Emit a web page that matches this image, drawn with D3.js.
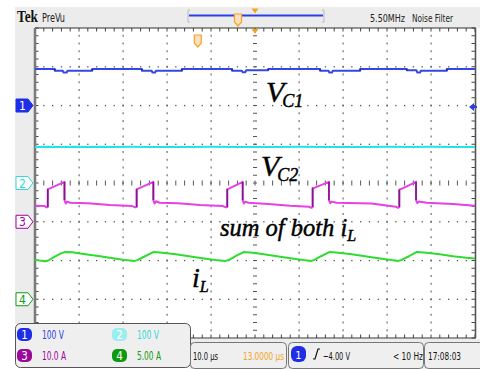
<!DOCTYPE html>
<html><head><meta charset="utf-8">
<script src="https://cdn.jsdelivr.net/npm/d3@7"></script>
<style>
html,body{margin:0;padding:0;background:#fff;}
svg{display:block;}
</style></head><body>
<svg id="scope" width="480" height="369"></svg>
<script>
// ---- acquisition settings ----
const timeDivs = d3.range(0, 101, 10);          // 10 µs/div, 10 divisions
const vertDivs = d3.range(-4, 5, 1);            // 8 vertical divisions
const chScale = [100, 100, 10, 5];              // V/div, V/div, A/div, A/div
const chUnit = ["V", "V", "A", "A"];
const chPosition = [2, 0, -1, -3];              // trace ground position in divisions
const chScaleText = ["100 V", "100 V", "10.0 A", "5.00 A"];
const triggerLevel = -4.0;                      // V on channel 1
const triggerDelay = 13.0;                      // µs before centre
const headerTexts = ["5.50MHz", "Noise Filter"];
const footerTexts = ["10.0 µs", "13.0000 µs", "−4.00 V", "< 10 Hz", "17:08:03"];

// ---- waveforms: [time µs, value] ----
const ch1Points = [[0,94],[4.5,94],[4.5,90],[6.3,90],[6.5,85],[7.2,85],[7.4,90],[13.0,90],[13.0,94],[24.3,94],[24.3,90],[26.5,90],[26.7,85],[27.3,85],[27.5,90],[33.4,90],[33.4,94],[44.8,94],[44.8,90],[47.0,90],[47.2,86],[47.8,86],[48.0,91],[53.0,91],[53.0,94],[64.8,94],[64.8,90],[66.7,90],[66.9,85],[67.5,85],[67.7,90],[73.9,90],[73.9,94],[84.5,94],[84.5,91],[86.7,91],[86.9,85],[87.5,85],[87.7,90],[93.6,90],[93.6,94],[100,94]];
const ch2Points = [[0,93],[3,93.4],[6,92.8],[9,93.3],[12,92.9],[15,93.5],[18,93],[22,93.3],[26,92.8],[30,93.2],[35,93],[40,93.4],[45,92.9],[50,93.2],[55,93],[60,93.3],[65,92.8],[70,93.2],[75,93],[80,93.4],[85,92.9],[90,93.3],[95,93],[100,93.2]];
const ch3Points = [[0,4.1],[2.2,4.05],[2.6,3.7],[2.9,3.8],[2.9,8.4],[3.4,8.6],[6.7,10.3],[6.7,5.6],[7.0,4.7],[7.3,5.2],[8.0,4.9],[12,4.8],[17,4.3],[22.1,4.05],[22.8,3.7],[23.1,3.8],[23.1,8.4],[23.6,8.6],[26.9,10.3],[26.9,5.6],[27.2,4.7],[27.5,5.3],[28.3,4.9],[32.5,4.8],[37.5,4.3],[42.7,4.05],[43.4,3.7],[43.7,3.8],[43.7,8.4],[44.2,8.6],[47.2,10.3],[47.2,5.6],[47.5,4.7],[47.8,5.2],[48.5,4.9],[53,4.6],[58,4.1],[62.2,3.9],[62.8,3.6],[63.1,3.8],[63.1,8.7],[63.6,8.8],[66.8,10.3],[66.8,5.6],[67.1,4.8],[67.4,5.2],[68.5,4.9],[76.5,4.7],[82.0,3.9],[82.5,3.6],[82.8,3.8],[82.8,8.3],[83.3,8.5],[86.6,10.3],[86.6,5.6],[86.9,4.8],[87.2,5.2],[89,4.9],[95,4.6],[100,4.1]];
const ch4Points = [[0,5.1],[1.0,5.0],[2.3,4.9],[3.0,5.0],[4.5,5.5],[6.0,5.95],[6.9,6.1],[8.5,6.05],[11,5.85],[14,5.6],[17,5.35],[20,5.1],[22.6,4.95],[23.3,5.05],[25,5.55],[27,6.1],[29,6.0],[32,5.8],[35,5.55],[38,5.3],[41,5.05],[43.3,4.95],[44.2,5.1],[46,5.7],[47.5,6.1],[49.5,6.0],[52,5.8],[55,5.55],[58,5.3],[61,5.05],[62.8,4.95],[63.6,5.1],[65,5.55],[67,6.1],[69,6.0],[72,5.8],[75,5.55],[78,5.3],[81,5.05],[82.6,4.95],[83.4,5.1],[85,5.55],[86.8,6.1],[89,6.0],[92,5.8],[95,5.55],[98,5.35],[100,5.25]];
const traces = [ch1Points, ch2Points, ch3Points, ch4Points];

// ---- drawing ----
const chColor = ["#3447e4", "#1fe6e6", "#e640e6", "#30dc30"];
const chEdge = ["#1c2aa8", "#10b8b8", "#7d1a86", "#1f9f1f"];
const chTextColor = ["#3340e0", "#33d8d8", "#a000a0", "#109a10"];
const badgeFill = ["#1f2ee6", "#9aeeee", "#9a0a9a", "#0e9a0e"];
const uiFont = '"Liberation Sans Narrow","DejaVu Sans Condensed","Arial Narrow",sans-serif';
const serif = '"Liberation Serif","Times New Roman",serif';

const svg = d3.select("#scope");
const x = d3.scaleLinear().domain([0, 100]).range([35, 475]);
const y = d3.scaleLinear().domain([-4, 4]).range([338, 28]);
const toDiv = (ch, v) => v / chScale[ch] + chPosition[ch];

// frame background
svg.append("rect").attr("x", 15).attr("y", 7).attr("width", 465).attr("height", 21).attr("fill", "#ececec");
svg.append("rect").attr("x", 15).attr("y", 28).attr("width", 20).attr("height", 296).attr("fill", "#ececec");
svg.append("rect").attr("x", 190).attr("y", 339).attr("width", 290).attr("height", 30).attr("fill", "#ececec");
svg.append("rect").attr("x", x(0)).attr("y", y(4)).attr("width", x(100) - x(0)).attr("height", y(-4) - y(4)).attr("fill", "#fff");

const grid = svg.append("g");
const minorT = d3.range(0, 100.01, 2);
const minorD = d3.range(-4, 4.01, 0.2);
// vertical dotted grid lines
timeDivs.filter(t => t > 0 && t < 100 && t !== 50).forEach(t => {
  grid.selectAll(null).data(minorD.slice(1, -1)).join("rect")
    .attr("x", x(t) - 0.5).attr("y", d => y(d) - 1).attr("width", 1.2).attr("height", 2).attr("fill", "#707070");
});
// horizontal dotted grid lines
vertDivs.filter(d => d > -4 && d < 4 && d !== 0).forEach(d => {
  grid.selectAll(null).data(minorT.slice(1, -1)).join("rect")
    .attr("x", t => x(t) - 0.6).attr("y", y(d) - 0.6).attr("width", 1.3).attr("height", 1.3).attr("fill", "#555");
});
// centre cross with minor ticks
grid.selectAll(null).data(minorD.slice(1, -1)).join("line")
  .attr("x1", x(50) - 2).attr("x2", x(50) + 2).attr("y1", d => y(d)).attr("y2", d => y(d))
  .attr("stroke", "#555").attr("stroke-width", 1);
grid.selectAll(null).data(minorT.slice(1, -1)).join("line")
  .attr("x1", t => x(t)).attr("x2", t => x(t)).attr("y1", y(0) - 2.5).attr("y2", y(0) + 2.5)
  .attr("stroke", "#555").attr("stroke-width", 1);
// border ticks
grid.selectAll(null).data(minorT).join("line")
  .attr("x1", t => x(t)).attr("x2", t => x(t)).attr("y1", y(4)).attr("y2", y(4) + 3.5)
  .attr("stroke", "#444");
grid.selectAll(null).data(minorT).join("line")
  .attr("x1", t => x(t)).attr("x2", t => x(t)).attr("y1", y(-4)).attr("y2", y(-4) - 3.5)
  .attr("stroke", "#444");
grid.selectAll(null).data(minorD).join("line")
  .attr("x1", x(0)).attr("x2", x(0) + 3.5).attr("y1", d => y(d)).attr("y2", d => y(d))
  .attr("stroke", "#444");
grid.selectAll(null).data(minorD).join("line")
  .attr("x1", x(100)).attr("x2", x(100) - 3.5).attr("y1", d => y(d)).attr("y2", d => y(d))
  .attr("stroke", "#444");
// border
grid.append("line").attr("x1", x(0)).attr("x2", x(100) + 1).attr("y1", y(4)).attr("y2", y(4)).attr("stroke", "#333");
grid.append("line").attr("x1", x(0)).attr("x2", x(100) + 1).attr("y1", y(-4)).attr("y2", y(-4)).attr("stroke", "#333");
grid.append("line").attr("x1", x(0)).attr("x2", x(0)).attr("y1", y(4)).attr("y2", y(-4)).attr("stroke", "#7a7a7a").attr("stroke-width", 2.5);
grid.append("line").attr("x1", x(100) + 0.5).attr("x2", x(100) + 0.5).attr("y1", y(4)).attr("y2", y(-4)).attr("stroke", "#555").attr("stroke-width", 1.6);

// waveforms
traces.forEach((pts, ch) => {
  const line = d3.line().x(d => x(d[0])).y(d => y(toDiv(ch, d[1])));
  svg.append("path").datum(pts).attr("d", line).attr("fill", "none")
    .attr("stroke", chColor[ch]).attr("stroke-width", 2).attr("stroke-linejoin", "round");
  // fast edges are drawn dimmer by the scope
  const edges = d3.pairs(pts).filter(([a, b]) => a[0] === b[0]);
  svg.selectAll(null).data(edges).join("line")
    .attr("x1", d => x(d[0][0])).attr("x2", d => x(d[1][0]))
    .attr("y1", d => y(toDiv(ch, d[0][1]))).attr("y2", d => y(toDiv(ch, d[1][1])))
    .attr("stroke", chEdge[ch]).attr("stroke-width", 1.6);
});

// channel ground markers
chPosition.forEach((p, ch) => {
  const cy = y(p);
  const g = svg.append("g").attr("transform", `translate(16,${cy})`);
  g.append("path").attr("d", "M0,-6.5H12L17,0L12,6.5H0Z")
    .attr("fill", ch === 0 ? badgeFill[0] : "#fff").attr("stroke", ch === 0 ? badgeFill[0] : chTextColor[ch]).attr("stroke-width", 1);
  g.append("text").attr("x", 6.5).attr("y", 4.5).attr("text-anchor", "middle")
    .attr("font-family", uiFont).attr("font-size", 12)
    .attr("fill", ch === 0 ? "#fff" : chTextColor[ch]).text(ch + 1);
});

// trigger level arrow on the right
const tl = y(toDiv(0, triggerLevel));
svg.append("path").attr("d", `M${x(100) - 6},${tl}L${x(100) - 1},${tl - 4}L${x(100) - 1},${tl + 4}Z`).attr("fill", "#2a3ee6");
svg.append("line").attr("x1", x(100) - 3).attr("x2", x(100) + 2).attr("y1", tl).attr("y2", tl).attr("stroke", "#2a3ee6").attr("stroke-width", 2);

// expansion point and trigger point markers
const orange = "#f3a428";
svg.append("path").attr("d", `M${x(50) - 3.5},${y(4) + 1}H${x(50) + 3.5}L${x(50)},${y(4) + 6}Z`).attr("fill", orange);
const trigX = x(50 - triggerDelay);
svg.append("path").attr("d", `M${trigX - 3.5},${y(4) + 7}H${trigX + 3.5}V${y(4) + 15}L${trigX},${y(4) + 19}L${trigX - 3.5},${y(4) + 15}Z`)
  .attr("fill", "#fde0c0").attr("stroke", orange).attr("stroke-width", 1.2);

// text helper
const tx = (xx, yy, str, size, color, opts = {}) => {
  const t = svg.append("text").attr("x", xx).attr("y", yy).attr("font-family", opts.family || uiFont)
    .attr("font-size", size).attr("fill", color).text(str);
  if (opts.width) t.attr("textLength", opts.width).attr("lengthAdjust", "spacingAndGlyphs");
  if (opts.weight) t.attr("font-weight", opts.weight);
  if (opts.anchor) t.attr("text-anchor", opts.anchor);
  return t;
};
// header
tx(17, 22, "Tek", 17, "#111", { family: serif, weight: "bold", width: 21 });
tx(42, 22, "PreVu", 11.5, "#222", { width: 23 });
tx(370, 21.5, headerTexts[0], 11, "#222", { width: 35 });
tx(412, 21.5, headerTexts[1], 11, "#222", { width: 41 });
// record view bar
svg.append("path").attr("d", "M190,10H188V22H190").attr("fill", "none").attr("stroke", "#bbb").attr("stroke-width", 1);
svg.append("path").attr("d", "M322,10H324V22H322").attr("fill", "none").attr("stroke", "#bbb").attr("stroke-width", 1);
svg.append("line").attr("x1", 189).attr("x2", 323).attr("y1", 15.5).attr("y2", 15.5).attr("stroke", "#2a3ee6").attr("stroke-width", 2);
svg.append("path").attr("d", "M234.5,14H241.5V22L238,26L234.5,22Z").attr("fill", "#fde0c0").attr("stroke", orange).attr("stroke-width", 1.2);
svg.append("path").attr("d", "M251.5,8.5H258.5L255,13.5Z").attr("fill", orange);

// footer: channel scale box
svg.append("rect").attr("x", 15.5).attr("y", 323.5).attr("width", 175).attr("height", 44).attr("rx", 5)
  .attr("fill", "#efefef").attr("stroke", "#555");
const badgePos = [[17, 328], [112, 328], [17, 349], [112, 349]];
chScaleText.forEach((s, ch) => {
  const [bx, by] = badgePos[ch];
  svg.append("rect").attr("x", bx).attr("y", by).attr("width", 15).attr("height", 13).attr("rx", 5).attr("fill", badgeFill[ch]);
  tx(bx + 7.5, by + 11, ch + 1, 11.5, "#fff", { anchor: "middle" });
  tx(bx + 25, by + 11, s, 12, chTextColor[ch], { width: s.length > 5 ? 24 : 22 });
});
// footer: timebase / trigger / clock boxes
svg.append("rect").attr("x", 190.5).attr("y", 342.5).attr("width", 96).attr("height", 26).attr("rx", 4).attr("fill", "#efefef").attr("stroke", "#777");
svg.append("rect").attr("x", 288.5).attr("y", 342.5).attr("width", 135).attr("height", 26).attr("rx", 4).attr("fill", "#efefef").attr("stroke", "#777");
svg.append("rect").attr("x", 424.5).attr("y", 342.5).attr("width", 60).attr("height", 26).attr("rx", 4).attr("fill", "#efefef").attr("stroke", "#777");
tx(193, 360, footerTexts[0], 11, "#111", { width: 25 });
tx(243, 360, footerTexts[1], 10.5, orange, { width: 41 });
svg.append("rect").attr("x", 291).attr("y", 346).attr("width", 15).attr("height", 16).attr("rx", 6).attr("fill", "#1f2ee6");
tx(298.5, 359, 1, 11, "#fff", { anchor: "middle" });
svg.append("path").attr("d", "M313,359H315L318,349H320").attr("fill", "none").attr("stroke", "#111").attr("stroke-width", 1.2);
tx(323, 360, footerTexts[2], 11, "#111", { width: 27 });
tx(393, 360, footerTexts[3], 10.5, "#111", { width: 30 });
tx(428, 360, footerTexts[4], 10.5, "#111", { width: 33 });

// trace annotations
const ann = (xx, yy, main, sub, size, subSize, subDy, dx) => {
  const t = svg.append("text").attr("x", xx).attr("y", yy).attr("font-family", serif)
    .attr("font-style", "italic").attr("font-size", size).attr("fill", "#000")
    .attr("stroke", "#000").attr("stroke-width", 0.45);
  t.append("tspan").text(main);
  t.append("tspan").attr("font-size", subSize).attr("dx", dx).attr("dy", subDy).text(sub);
};
ann(266, 102, "V", "C1", 30, 18, 5, -2);
ann(261, 176, "V", "C2", 30, 18, 5, -2);
ann(220, 236, "sum of both i", "L", 24.5, 16, 5, 0);
ann(192, 287, "i", "L", 28, 16, 5, 0);
</script>
</body></html>
